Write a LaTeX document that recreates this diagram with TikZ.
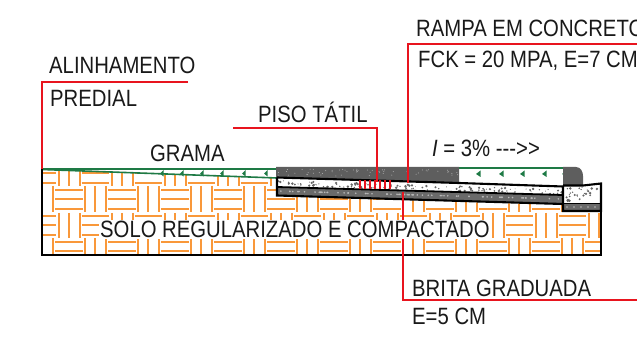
\documentclass[tikz,border=0pt]{standalone}
\usepackage{fontspec}
\setmainfont[FakeStretch=0.86]{Liberation Sans}
\definecolor{hatch}{HTML}{F9983A}
\definecolor{leader}{HTML}{E8141E}
\definecolor{grass}{HTML}{1E7A45}
\definecolor{paver}{HTML}{5E5E5E}
\definecolor{gravel}{HTML}{6A6A6A}
\tikzset{
  lbl/.style={anchor=base west,inner sep=0pt,text=black!90,font=\fontsize{23.6}{25}\selectfont},
  leaderline/.style={draw=leader,line width=2.1pt},
  outline/.style={draw=black,line width=2.1pt},
  hatchline/.style={draw=hatch,line width=2pt},
  grassline/.style={draw=grass,line width=1.6pt},
  tuft/.style={fill=grass,draw=none}
}
\begin{document}
\begin{tikzpicture}[x=1pt,y=-1pt]
\useasboundingbox (0,0) rectangle (637,339);
% soil hatch
\begin{scope}
\clip (42,169) -- (277,178) -- (277,196) -- (563,205) -- (563,211) -- (601,211) -- (601,255) -- (42,255) -- cycle;
\foreach \i in {-1,...,10}{
 \foreach \j in {-1,...,2}{
  \pgfmathsetmacro{\X}{55+53*\i}
  \pgfmathsetmacro{\Y}{186+52*\j}
  \begin{scope}[shift={(\X pt,-\Y pt)}]
  \foreach \k in {4,13.3,23}{ \draw[hatchline] (0,\k)--(27.7,\k); }
  \foreach \k in {30,40,50.7}{ \draw[hatchline] (\k,0)--(\k,26); }
  \foreach \k in {4,14,24.7}{ \draw[hatchline] (\k,27)--(\k,52); }
  \foreach \k in {30.5,39.5,49}{ \draw[hatchline] (26.5,\k)--(54,\k); }
  \end{scope}
 }
}
\end{scope}
% grass wedge
\draw[grassline] (42,169) -- (277,169);
\draw[grassline] (42,169.5) -- (277,178);
\foreach \x in {160,180,200,220,242,264}{
  \fill[tuft] (\x,173.5) -- (\x+3.5,170) -- (\x+3.5,176.5) -- cycle;
}
% right grass
\draw[grassline] (459,168) -- (563,168);
\foreach \x in {476,499,520,542,562}{
  \fill[tuft] (\x,174) -- (\x+4.5,170.5) -- (\x+4.5,177) -- cycle;
}
% concrete ramp layer
\fill[white] (277,178) -- (563,187) -- (563,195) -- (277,187) -- cycle;
% gravel layer
\fill[gravel] (277,187) -- (563,195) -- (563,204) -- (277,195) -- cycle;
\fill[gravel] (563,204) rectangle (601,210);
% dark pavers
\fill[paver] (276,167) -- (459,167) -- (459,183) -- (276,177) -- cycle;
\fill[paver] (563,167) -- (576,167) .. controls (581,167) and (583,172) .. (583,176) -- (583,186) -- (563,186) -- cycle;
% stipple
\pgfmathsetseed{7}
\foreach \n in {1,...,120}{
  \pgfmathsetmacro{\px}{278+284*rnd}
  \pgfmathsetmacro{\py}{180.5+5*rnd+(\px-277)*0.0315}
  \pgfmathsetmacro{\pr}{0.4+1.0*rnd}
  \fill[black!60] (\px,\py) circle[radius=\pr];
}
\foreach \n in {1,...,28}{
  \pgfmathsetmacro{\px}{565+35*rnd}
  \pgfmathsetmacro{\py}{187+15*rnd}
  \pgfmathsetmacro{\pr}{0.4+1.1*rnd}
  \fill[black!60] (\px,\py) circle[radius=\pr];
}
\foreach \n in {1,...,70}{
  \pgfmathsetmacro{\px}{279+283*rnd}
  \pgfmathsetmacro{\py}{191+(\px-277)*0.028}
  \fill[white!72!black] (\px,\py) circle[radius=0.9];
}
\foreach \x in {567,574,...,598}{
  \fill[white!72!black] (\x,207) circle[radius=0.9];
}
\foreach \n in {1,...,60}{
  \pgfmathsetmacro{\px}{277+182*rnd}
  \pgfmathsetmacro{\py}{169+7*rnd}
  \fill[white!55!paver] (\px,\py) circle[radius=0.5];
}
% outlines of layers
\draw[outline] (277,177.5) -- (459,183) -- (563,186.5);
\draw[outline] (277,177.5) -- (277,195.5) -- (563,204);
\draw[line width=1.8pt] (277,187) -- (563,195);
\draw[outline] (563,186) -- (563,211) -- (601,211) -- (601,183.5) -- (583,185.5) -- (563,185.5);
\draw[line width=1.8pt] (563,203.5) -- (601,203.5);
% soil outline
\draw[outline] (42,169) -- (42,255) -- (601,255) -- (601,211);
% tactile hatch
\foreach \x in {360,365,...,390}{ \draw[draw=leader,line width=1.2pt] (\x,180.5) -- (\x,189.5); }
% leaders
\coordinate (a0) at (188,82); \coordinate (a1) at (42,82); \coordinate (a2) at (42,169);
\coordinate (b0) at (233,128); \coordinate (b1) at (377,128); \coordinate (b2) at (377,182);
\coordinate (c0) at (637,44); \coordinate (c1) at (408,44); \coordinate (c2) at (408,183);
\coordinate (d0) at (637,300); \coordinate (d1) at (403,300); \coordinate (d2) at (403,192);
\draw[leaderline] (a0) -- (a1) -- (a2);
\draw[leaderline] (b0) -- (b1) -- (b2);
\draw[leaderline] (c0) -- (c1) -- (c2);
\draw[leaderline] (d0) -- (d1) -- (d2);
% labels
\node[lbl] (alin) at (49,74) {ALINHAMENTO};
\node[lbl] (pred) at (50,107) {PREDIAL};
\node[lbl] (gram) at (150,162) {GRAMA};
\node[lbl] (piso) at (258,123) {PISO TÁTIL};
\node[lbl] (ramp) at (416,37) {RAMPA EM CONCRETO};
\node[lbl] (fck) at (418,68) {FCK = 20 MPA, E=7 CM};
\node[lbl] (incl) at (432,157) {\textit{I} = 3\% {-}{-}{-}{>}{>}};
\node[lbl,fill=white,inner xsep=1pt,inner ysep=1pt,text depth=1pt] (solo) at (99,237) {SOLO REGULARIZADO E COMPACTADO};
\node[lbl] (brit) at (412,296) {BRITA GRADUADA};
\node[lbl] (esp) at (412,324) {E=5 CM};
\end{tikzpicture}
\end{document}
